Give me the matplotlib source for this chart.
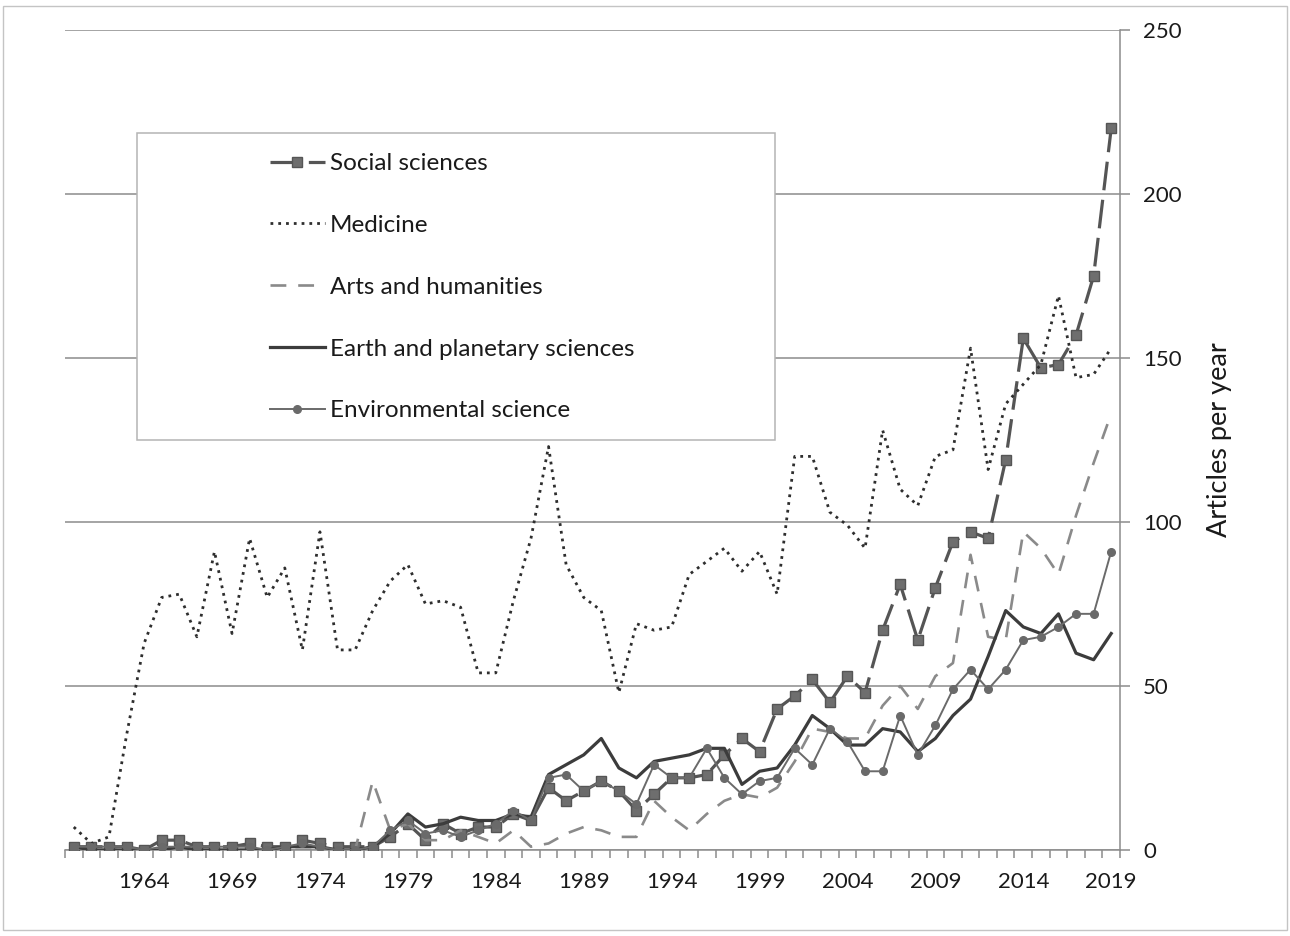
import numpy as np
import matplotlib
matplotlib.use("Agg")
import matplotlib.pyplot as plt
from matplotlib.patches import Rectangle

plt.rcParams['font.family'] = ['Lato', 'DejaVu Sans']

years = list(range(1960, 2020))
tick_years = list(range(1964, 2020, 5))

social = [1, 1, 1, 1, 0, 3, 3, 1, 1, 1,
          2, 1, 1, 3, 2, 1, 1, 1, 4, 8,
          3, 8, 5, 7, 7, 11, 9, 19, 15, 18,
          21, 18, 12, 17, 22, 22, 23, 29, 34, 30,
          43, 47, 52, 45, 53, 48, 67, 81, 64, 80,
          94, 97, 95, 119, 156, 147, 148, 157, 175, 220]
medicine = [7, 2, 4, 35, 63, 77, 78, 65, 91, 66,
            95, 77, 86, 61, 97, 61, 61, 73, 82, 87,
            75, 76, 74, 54, 54, 76, 95, 123, 87, 77,
            73, 48, 69, 67, 68, 84, 88, 92, 85, 91,
            78, 120, 120, 103, 99, 92, 128, 110, 105, 120,
            122, 153, 116, 136, 142, 148, 169, 144, 145, 153]
arts = [0, 0, 0, 0, 0, 0, 0, 0, 0, 0,
        0, 0, 0, 0, 0, 0, 0, 21, 6, 8,
        3, 3, 6, 4, 2, 6, 1, 2, 5, 7,
        6, 4, 4, 15, 10, 6, 11, 15, 17, 16,
        19, 27, 37, 36, 34, 34, 44, 50, 43, 53,
        57, 90, 65, 64, 97, 92, 84, 102, 118, 133]
earth = [1, 0, 0, 0, 0, 0, 1, 0, 0, 0,
         0, 0, 1, 1, 1, 0, 0, 1, 5, 11,
         7, 8, 10, 9, 9, 11, 10, 23, 26, 29,
         34, 25, 22, 27, 28, 29, 31, 31, 20, 24,
         25, 32, 41, 37, 32, 32, 37, 36, 30, 34,
         41, 46, 59, 73, 68, 66, 72, 60, 58, 66]
environmental = [1, 1, 1, 1, 0, 1, 1, 1, 1, 1,
                 1, 0, 1, 2, 1, 0, 0, 1, 6, 9,
                 5, 6, 4, 6, 8, 12, 9, 22, 23, 18,
                 21, 18, 14, 26, 22, 22, 31, 22, 17, 21,
                 22, 31, 26, 37, 33, 24, 24, 41, 29, 38,
                 49, 55, 49, 55, 64, 65, 68, 72, 72, 91]

labels = ["Social sciences", "Medicine", "Arts and humanities",
          "Earth and planetary sciences", "Environmental science"]

W, H = 1290, 936
fig = plt.figure(figsize=(W / 100, H / 100), dpi=100)
fig.patch.set_facecolor('white')
ax = fig.add_axes([65 / W, 86 / H, 1055 / W, 820 / H])

x = np.arange(len(years))
gray_axis = '#8c8c8c'

l1, = ax.plot(x, social, color='#555555', lw=2.3, linestyle=(0, (9, 3)),
              marker='s', markersize=6.5, markerfacecolor='#6e6e6e',
              markeredgecolor='#555555', zorder=3)
l2, = ax.plot(x, medicine, color='#2e2e2e', lw=2.0, linestyle=(0, (1, 1.8)),
              zorder=3)
l3, = ax.plot(x, arts, color='#8a8a8a', lw=1.9, linestyle=(0, (6, 4.5)),
              zorder=3)
l4, = ax.plot(x, earth, color='#3c3c3c', lw=2.3, linestyle='-', zorder=4)
l5, = ax.plot(x, environmental, color='#6a6a6a', lw=1.4, linestyle='-',
              marker='o', markersize=5.5, markerfacecolor='#6a6a6a',
              markeredgecolor='#6a6a6a', zorder=5)

ax.set_xlim(-0.5, len(years) - 0.5)
ax.set_ylim(0, 250)

# y axis on the right
ax.yaxis.tick_right()
ax.set_yticks([0, 50, 100, 150, 200, 250])
ax.tick_params(axis='y', length=7, color=gray_axis, width=1.1,
               labelsize=16, pad=9.5, labelcolor='#1a1a1a')
ax.yaxis.grid(True, color=gray_axis, lw=1.1)
ax.set_axisbelow(True)
ax.yaxis.set_label_position('right')
ax.set_ylabel('Articles per year', fontsize=19.5, labelpad=18, color='#1a1a1a')

# x axis: labels at category centers, tick marks between categories
ax.set_xticks([years.index(y) for y in tick_years])
ax.set_xticklabels([str(y) for y in tick_years])
ax.tick_params(axis='x', which='major', length=0, labelsize=16, pad=16,
               labelcolor='#1a1a1a')
ax.set_xticks(np.arange(-0.5, len(years), 1.0), minor=True)
ax.tick_params(axis='x', which='minor', length=6, color=gray_axis, width=1.1,
               direction='out')

for s in ['left', 'top']:
    ax.spines[s].set_visible(False)
for s in ['right', 'bottom']:
    ax.spines[s].set_color(gray_axis)
    ax.spines[s].set_linewidth(1.1)

# legend box
box = Rectangle((137 / W, 1 - 440 / H), 638 / W, 307 / H,
                transform=fig.transFigure, facecolor='white',
                edgecolor='#b4b4b4', lw=1.1, zorder=10)
fig.patches.append(box)

leg = fig.legend([l1, l2, l3, l4, l5], labels, loc='upper left',
                 bbox_to_anchor=(270 / W, 1 - 153 / H), frameon=False,
                 fontsize=17.5, handlelength=2.25, handletextpad=0.2,
                 labelspacing=1.68, borderpad=0, borderaxespad=0)
leg.set_zorder(11)
for t in leg.get_texts():
    t.set_color('#1a1a1a')

# outer border of the figure
border = Rectangle((3 / W, 6 / H), 1284 / W, 924 / H, transform=fig.transFigure,
                   fill=False, edgecolor='#c4c4c4', lw=1.0, zorder=0)
fig.patches.append(border)

fig.savefig('out.png', dpi=100, facecolor='white')
